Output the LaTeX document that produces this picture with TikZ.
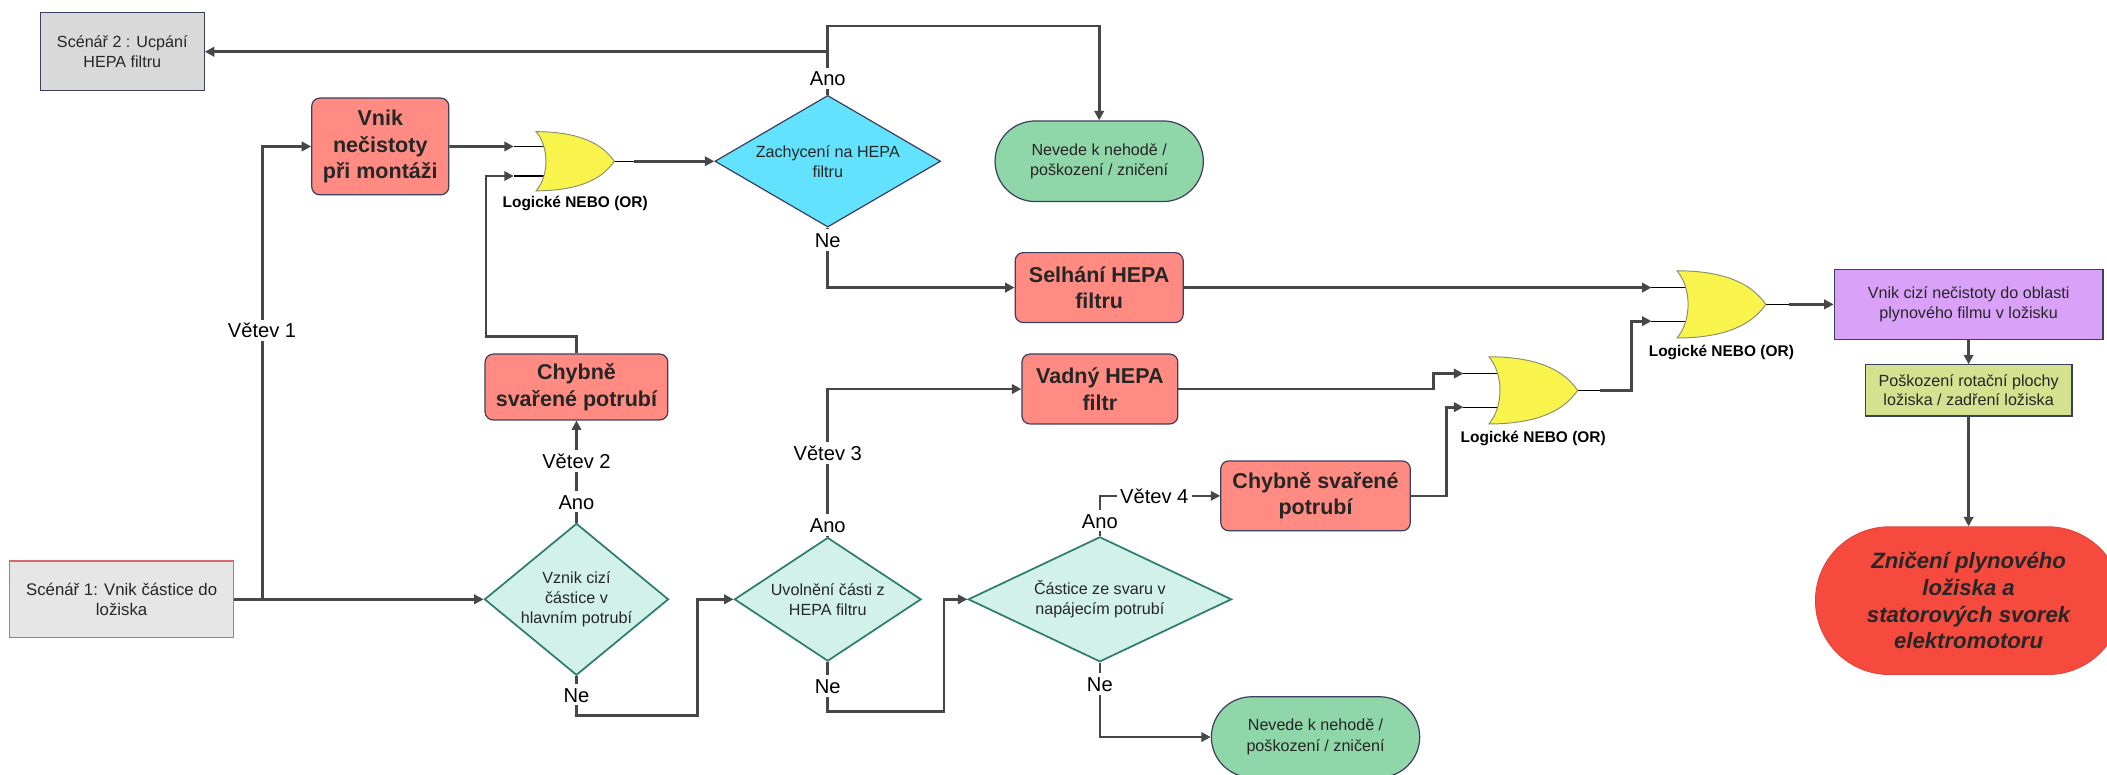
\documentclass[tikz,border=0pt]{standalone}
\usepackage{fontspec}
\setmainfont{Liberation Sans}
\usetikzlibrary{arrows.meta,shapes.geometric}
\definecolor{linegray}{HTML}{474747}
\definecolor{salmon}{HTML}{FF8B82}
\definecolor{boxedge}{HTML}{3C3F60}
\definecolor{cyanfill}{HTML}{63E2FD}
\definecolor{greenfill}{HTML}{8FD6A8}
\definecolor{mintfill}{HTML}{D2F1E9}
\definecolor{tealedge}{HTML}{2F7D70}
\definecolor{purplefill}{HTML}{D9A2F8}
\definecolor{ygfill}{HTML}{D4E18F}
\definecolor{redfill}{HTML}{F54A3D}
\definecolor{rededge}{HTML}{D9463A}
\definecolor{scAfill}{HTML}{E6E6E6}
\definecolor{scAedge}{HTML}{D9686E}
\definecolor{scBfill}{HTML}{D9D9D9}
\definecolor{gateyellow}{HTML}{F8F44B}
\definecolor{gateedge}{HTML}{8C8C70}
\definecolor{txt}{HTML}{262626}

\tikzset{
  conn/.style={draw=linegray, line width=2pt},
  arr/.style={conn, -{Triangle[length=7pt,width=7pt]}},
  boldbox/.style={draw=boxedge, line width=0.9pt, fill=salmon, rounded corners=6pt,
    font=\fontsize{16}{19.8}\selectfont\bfseries, text=txt, align=center, inner sep=0pt},
  plainbox/.style={draw=boxedge, line width=0.9pt, font=\fontsize{12}{15}\selectfont,
    text=txt, align=center, inner sep=0pt},
  mintdia/.style={diamond, draw=tealedge, line width=1.3pt, fill=mintfill, inner sep=0pt,
    font=\fontsize{12}{15}\selectfont, text=txt, align=center},
  stadium/.style={draw=boxedge, line width=0.9pt, fill=greenfill, rounded corners=30pt,
    minimum width=155pt, minimum height=60pt, inner sep=0pt,
    font=\fontsize{12}{15.5}\selectfont, text=txt, align=center},
  lab/.style={fill=white, inner sep=2.5pt, font=\fontsize{15}{18}\selectfont,
    text height=11pt, text depth=0pt, text=black},
  gatelab/.style={inner sep=0pt, font=\fontsize{11.5}{14}\selectfont\bfseries, text=black},
}

\newcommand\orgate[4]{%
  \begin{scope}[shift={(#2,#3)}, scale=#4]
    \draw[line width=0.8pt, black] (-19,-12.5) -- (8,-12.5) (-19,12.5) -- (8,12.5) (66,0) -- (83,0);
    \draw[fill=gateyellow, draw=gateedge, line width=0.7pt]
      (0,-25) .. controls (36,-25) and (56,-15) .. (66,0)
      .. controls (56,15) and (36,25) .. (0,25)
      .. controls (11,12) and (11,-12) .. (0,-25) -- cycle;
    \coordinate (#1-in1) at (-19,-12.5);
    \coordinate (#1-in2) at (-19,12.5);
    \coordinate (#1-out) at (83,0);
    \coordinate (#1-lab) at (33,36);
  \end{scope}}

\begin{document}
\begin{tikzpicture}[x=1pt,y=-1pt]
\useasboundingbox (0,0) rectangle (1568,576);

% ---------- nodes ----------
\node[plainbox, fill=scBfill, minimum width=122pt, minimum height=58pt] (sc2) at (91,38.5) {Scénář 2 : Ucpání\\HEPA filtru};
\node[plainbox, fill=scAfill, draw=scAedge, minimum width=166.5pt, minimum height=57pt,
      font=\fontsize{12.5}{15}\selectfont] (sc1) at (90.5,446) {Scénář 1: Vnik částice do\\ložiska};

\node[boldbox, minimum width=102pt, minimum height=72pt] (vnik) at (283,109) {Vnik\\nečistoty\\při montáži};
\node[boldbox, minimum width=136pt, minimum height=49pt] (ch1) at (429,288) {Chybně\\svařené potrubí};
\node[boldbox, minimum width=125pt, minimum height=52pt] (sel) at (818,214) {Selhání HEPA\\filtru};
\node[boldbox, minimum width=116pt, minimum height=52pt] (vad) at (818.5,289.5) {Vadný HEPA\\filtr};
\node[boldbox, minimum width=141pt, minimum height=52pt] (ch2) at (979,369) {Chybně svařené\\potrubí};

\node[diamond, draw=boxedge, line width=0.9pt, fill=cyanfill, inner sep=0pt, shape aspect=1.714,
      minimum width=168pt, minimum height=98pt, font=\fontsize{12}{15}\selectfont, text=txt, align=center]
      (d1) at (616,120) {Zachycení na HEPA\\filtru};
\node[mintdia, shape aspect=1.212, minimum width=137pt, minimum height=113pt] (d2) at (429,446) {Vznik cizí\\částice v\\hlavním potrubí};
\node[mintdia, shape aspect=1.51, minimum width=139pt, minimum height=92pt] (d3) at (616,446) {Uvolnění části z\\HEPA filtru};
\node[mintdia, shape aspect=2.11, minimum width=196pt, minimum height=93pt] (d4) at (818.5,446) {Částice ze svaru v\\napájecím potrubí};

\node[stadium] (nev1) at (818,120) {Nevede k nehodě /\\poškození / zničení};
\node[stadium] (nev2) at (979,548.5) {Nevede k nehodě /\\poškození / zničení};

\node[plainbox, fill=purplefill, minimum width=200pt, minimum height=52pt] (pur) at (1465,226.5) {Vnik cizí nečistoty do oblasti\\plynového filmu v ložisku};
\node[plainbox, fill=ygfill, minimum width=154pt, minimum height=38pt, font=\fontsize{12}{14.5}\selectfont] (yg) at (1465,290.5) {Poškození rotační plochy\\ložiska / zadření ložiska};
\node[draw=rededge, line width=0.6pt, fill=redfill, rounded corners=55pt, minimum width=228pt, minimum height=110pt,
      inner sep=0pt, align=center, text=txt, font=\fontsize{16.5}{19.8}\selectfont\bfseries\itshape]
      (red) at (1465,447) {Zničení plynového\\ložiska a\\statorových svorek\\elektromotoru};

% ---------- gates ----------
\orgate{g1}{399}{120}{0.88}
\orgate{g2}{1248}{226.5}{1}
\orgate{g3}{1108}{290.5}{1}
\node[gatelab] (g1l) at (g1-lab) {Logické NEBO (OR)};
\node[gatelab] (g2l) at (g2-lab) {Logické NEBO (OR)};
\node[gatelab] (g3l) at (g3-lab) {Logické NEBO (OR)};

% ---------- helper coordinates ----------
\coordinate (v1) at (195.4,446);
\coordinate (c1) at (361.7,250.5);
\coordinate (ctop) at (616,19.3);
\coordinate (cleft) at (616,38.5);
\coordinate (c3) at (1066.6,289.5);
\coordinate (c4) at (1076.5,369);
\coordinate (c5) at (1214,290.5);
\coordinate (c6) at (519.3,532.6);
\coordinate (c8) at (702.6,529.6);

% ---------- connectors ----------
\draw[arr] (sc1.east) -- (d2.west);
\draw[arr] (v1) |- (vnik.west);
\draw[arr] (vnik.east) -- (g1-in1);
\draw[arr] (ch1.north) |- (c1) |- (g1-in2);
\draw[arr] (g1-out) -- (d1.west);
\draw[arr] (d1.north) -- (ctop) -| (nev1.north);
\draw[arr] (cleft) -- (sc2.east);
\draw[arr] (d1.south) |- (sel.west);
\draw[arr] (sel.east) -- (g2-in1);
\draw[arr] (vad.east) -- (c3) |- (g3-in1);
\draw[arr] (ch2.east) -- (c4) |- (g3-in2);
\draw[arr] (g3-out) -- (c5) |- (g2-in2);
\draw[arr] (g2-out) -- (pur.west);
\draw[arr] (pur.south) -- (yg.north);
\draw[arr] (yg.south) -- (red.north);
\draw[arr] (d2.north) -- (ch1.south);
\draw[arr] (d2.south) |- (c6) |- (d3.west);
\draw[arr] (d3.north) |- (vad.west);
\draw[arr] (d3.south) |- (c8) |- (d4.west);
\draw[arr] (d4.north) |- (ch2.west);
\draw[arr] (d4.south) |- (nev2.west);

% ---------- labels ----------
\node[lab] (l1) at (195,246) {Větev 1};
\node[lab] (l2) at (616,58.3) {Ano};
\node[lab] (l3) at (616,178.6) {Ne};
\node[lab] (l4) at (429,373.3) {Ano};
\node[lab] (l5) at (429,343) {Větev 2};
\node[lab] (l6) at (429,517) {Ne};
\node[lab] (l7) at (616,390.7) {Ano};
\node[lab] (l8) at (616,337) {Větev 3};
\node[lab] (l9) at (616,510.5) {Ne};
\node[lab] (l10) at (818.5,387.5) {Ano};
\node[lab] (l11) at (859,369) {Větev 4};
\node[lab] (l12) at (818.5,509) {Ne};
\end{tikzpicture}
\end{document}
